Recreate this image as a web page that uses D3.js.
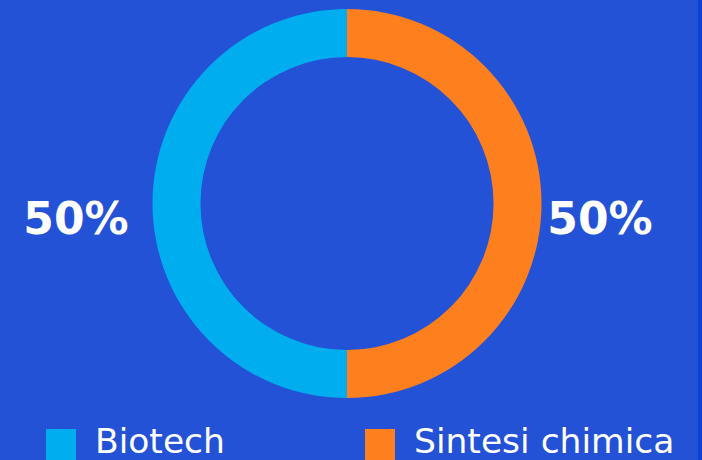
<!DOCTYPE html>
<html>
<head>
<meta charset="utf-8">
<script src="https://cdn.jsdelivr.net/npm/d3@7"></script>
<style>
  body { margin: 0; background: #2352d6; }
  svg { display: block; }
</style>
</head>
<body>
<div class="chart"></div>
<script>
var svgWidth = 702;
var svgHeight = 460;

// data
var categories = ["Biotech", "Sintesi chimica"];
var shares = [50, 50];
var colors = ["#00aeef", "#fe7f1d"];

var svg = d3.select(".chart")
  .append("svg")
  .attr("width", svgWidth)
  .attr("height", svgHeight);

svg.append("rect")
  .attr("width", svgWidth)
  .attr("height", svgHeight)
  .attr("fill", "#2352d6");

// darker strip on right edge
svg.append("rect")
  .attr("x", 698)
  .attr("width", 4)
  .attr("height", svgHeight)
  .attr("fill", "#0f3ed8");

var cx = 347, cy = 203.5;
var outerR = 194.5, innerR = 146.5;

var pieData = categories.map(function(c, i) {
  return { name: c, value: shares[i], color: colors[i] };
});

// biotech on the left, so go counter-clockwise from the top
var pie = d3.pie()
  .sort(null)
  .value(d => d.value)
  .startAngle(0)
  .endAngle(-2 * Math.PI);

var arc = d3.arc()
  .innerRadius(innerR)
  .outerRadius(outerR);

var chartGroup = svg.append("g")
  .attr("transform", `translate(${cx}, ${cy})`);

var arcs = pie(pieData);

chartGroup.selectAll("path")
  .data(arcs)
  .enter()
  .append("path")
  .attr("d", arc)
  .attr("fill", d => d.data.color);

// percent labels at the sides
var labelX = [76, 600];
svg.selectAll(".pct")
  .data(pieData)
  .enter()
  .append("text")
  .attr("class", "pct")
  .attr("x", (d, i) => labelX[i])
  .attr("y", 234)
  .attr("text-anchor", "middle")
  .attr("fill", "#ffffff")
  .attr("font-family", "'DejaVu Sans', sans-serif")
  .attr("font-weight", "bold")
  .attr("font-size", "44px")
  .text(d => d.value + "%");

// legend
var legendX = [46, 365];
var legend = svg.selectAll(".legend")
  .data(pieData)
  .enter()
  .append("g")
  .attr("class", "legend")
  .attr("transform", (d, i) => `translate(${legendX[i]}, 429)`);

legend.append("rect")
  .attr("width", 30)
  .attr("height", 31)
  .attr("fill", d => d.color);

legend.append("text")
  .attr("x", 49)
  .attr("y", 24)
  .attr("fill", "#ffffff")
  .attr("font-family", "'DejaVu Sans', sans-serif")
  .attr("font-weight", "normal")
  .attr("font-size", "34.5px")
  .text(d => d.name);
</script>
</body>
</html>
